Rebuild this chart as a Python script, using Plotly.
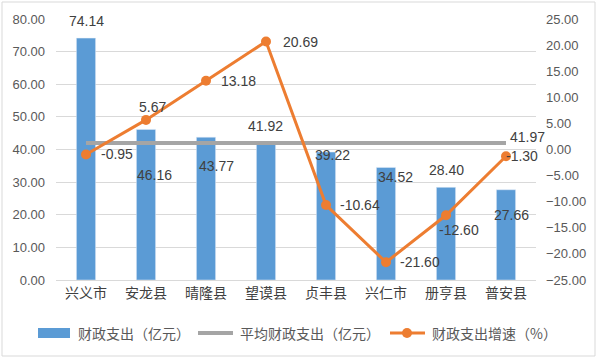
import plotly.graph_objects as go

categories = ["兴义市", "安龙县", "晴隆县", "望谟县", "贞丰县", "兴仁市", "册亨县", "普安县"]
spending = [74.14, 46.16, 43.77, 41.92, 39.22, 34.52, 28.40, 27.66]
avg_spending = [41.97] * 8
growth = [-0.95, 5.67, 13.18, 20.69, -10.64, -21.60, -12.60, -1.30]

left_ticks = [0, 10, 20, 30, 40, 50, 60, 70, 80]
right_ticks = [-25, -20, -15, -10, -5, 0, 5, 10, 15, 20, 25]

series_names = ["财政支出（亿元）", "平均财政支出（亿元）", "财政支出增速（%）"]

# label offsets (pixels) - styling only
bar_lbl_dx = [0, 8, 10, -1, 6, 9, 0, 5]
bar_lbl_dy = [-17, 46, 29, -17, 3, 10, -17, 25]
line_lbl_dx = [31, 6, 32, 34, 34, 34, 13, 16]
line_lbl_dy = [0, -13, 0, 0, 0, 0, 15, 0]

BLUE = "#5b9bd5"
GRAY = "#a5a5a5"
ORANGE = "#ed7d31"
TXT = "#404040"
FONT = "Liberation Sans, Noto Sans CJK SC"
CJK = "Noto Sans CJK SC"

# plot area in px
PL, PR, PT, PB = 56, 536, 19, 280
PW, PH = PR - PL, PB - PT


def px(x):
    return (x - PL) / PW


def py(y):
    return (PB - y) / PH


fig = go.Figure()
fig.add_trace(go.Bar(x=categories, y=spending, name=series_names[0],
                     marker_color=BLUE, width=0.32, yaxis="y"))
fig.add_trace(go.Scatter(x=categories, y=avg_spending, name=series_names[1],
                         mode="lines", line=dict(color=GRAY, width=4), yaxis="y"))
fig.add_trace(go.Scatter(x=categories, y=growth, name=series_names[2],
                         mode="lines+markers", line=dict(color=ORANGE, width=3),
                         marker=dict(color=ORANGE, size=10), yaxis="y2"))

ann = []
for i, (c, v) in enumerate(zip(categories, spending)):
    ann.append(dict(x=c, y=v, xref="x", yref="y", text=f"{v:.2f}", showarrow=False,
                    xshift=bar_lbl_dx[i], yshift=-bar_lbl_dy[i],
                    font=dict(size=14, color=TXT, family=FONT)))
for i, (c, v) in enumerate(zip(categories, growth)):
    ann.append(dict(x=c, y=v, xref="x", yref="y2", text=f"{v:.2f}", showarrow=False,
                    xshift=line_lbl_dx[i], yshift=-line_lbl_dy[i],
                    font=dict(size=14, color=TXT, family=FONT)))
ann.append(dict(x=categories[-1], y=avg_spending[-1], xref="x", yref="y",
                text=f"{avg_spending[-1]:.2f}", showarrow=False, xshift=21, yshift=6,
                font=dict(size=14, color=TXT, family=FONT)))

# manual legend (layout decoration)
LY = 333
legend_text_x = [76, 238, 430]
for name, lx in zip(series_names, legend_text_x):
    ann.append(dict(x=px(lx), y=py(LY), xref="paper", yref="paper", text=name,
                    showarrow=False, xanchor="left", yanchor="middle",
                    font=dict(size=14, color="#595959", family=CJK)))

shapes = [
    dict(type="rect", xref="paper", yref="paper", x0=px(2), x1=px(595),
         y0=py(356), y1=py(2), line=dict(color="#d9d9d9", width=1), layer="below"),
    dict(type="rect", xref="paper", yref="paper", x0=px(38), x1=px(70),
         y0=py(338), y1=py(328), line=dict(width=0), fillcolor=BLUE),
    dict(type="line", xref="paper", yref="paper", x0=px(198), x1=px(233),
         y0=py(LY), y1=py(LY), line=dict(color=GRAY, width=4)),
    dict(type="line", xref="paper", yref="paper", x0=px(390), x1=px(425),
         y0=py(LY), y1=py(LY), line=dict(color=ORANGE, width=3)),
    dict(type="circle", xref="paper", yref="paper", x0=px(402), x1=px(412),
         y0=py(LY + 5), y1=py(LY - 5), line=dict(width=0), fillcolor=ORANGE),
]

fig.update_layout(
    width=597, height=359,
    margin=dict(l=PL, r=597 - PR, t=PT, b=359 - PB, autoexpand=False),
    paper_bgcolor="white", plot_bgcolor="white",
    font=dict(family=FONT, color="#595959", size=13),
    showlegend=False,
    xaxis=dict(type="category", showgrid=False, showline=True, linecolor="#d9d9d9",
               linewidth=1, ticks="", tickfont=dict(size=14, color=TXT, family=CJK),
               range=[-0.5, 7.5]),
    yaxis=dict(range=[0, 80], tickvals=left_ticks, tickformat=".2f",
               showgrid=True, gridcolor="#d9d9d9", gridwidth=1, zeroline=False,
               ticklabelstandoff=10, tickfont=dict(size=13, color="#595959")),
    yaxis2=dict(range=[-25, 25], tickvals=right_ticks, tickformat=".2f",
                overlaying="y", side="right", showgrid=False, zeroline=False,
                ticklabelstandoff=9, tickfont=dict(size=13, color="#595959")),
    annotations=ann,
    shapes=shapes,
)

fig.write_html("out.html", config={"displayModeBar": False},
               post_script="document.body.style.margin='0';document.body.style.overflow='hidden';")
